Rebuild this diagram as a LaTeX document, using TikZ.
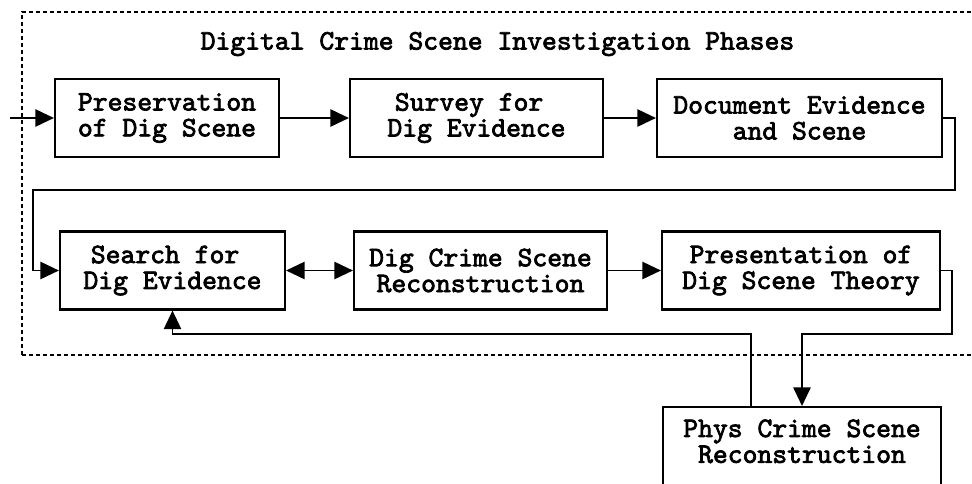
\documentclass[tikz,border=0pt]{standalone}
\usepackage{fontspec}
\newfontfamily\courbold{lmmono10-regular.otf}[FakeBold=2.6]
\usetikzlibrary{arrows.meta}
\tikzset{
  stagebox/.style={draw, line width=1.6pt, align=center, inner sep=0pt,
    minimum height=58.5pt, font=\courbold\fontsize{21.2}{19.4}\selectfont},
  conn/.style={line width=1.4pt},
  arr/.style={conn, -{Triangle[length=14pt,width=13pt]}},
  darr/.style={conn, {Triangle[length=14pt,width=13pt]}-{Triangle[length=14pt,width=13pt]}},
  frame/.style={line width=1.5pt, dash pattern=on 3pt off 2.25pt},
  titletext/.style={font=\courbold\fontsize{21.2}{19.4}\selectfont}
}
\begin{document}
\begin{tikzpicture}[x=0.75pt,y=-0.75pt]
\useasboundingbox (0,0) rectangle (972,483);
\clip (0,0) rectangle (972,483);
\fill[white] (0,0) rectangle (972,483);
% frame
\draw[frame] (22,355) -- (22,12) -- (1000,12);
\draw[frame] (22,355) -- (1000,355);
\node[titletext] (title) at (497.5,44) {Digital Crime Scene Investigation Phases};
% boxes
\node[stagebox, minimum width=168pt] (b1) at (167,118) {Preservation\\of Dig Scene};
\node[stagebox, minimum width=189.75pt] (b2) at (476.5,118) {Survey for\hphantom{ }\\Dig Evidence};
\node[stagebox, minimum width=213.75pt] (b3) at (799.5,118) {Document Evidence\\and Scene};
\node[stagebox, minimum width=168.75pt] (b4) at (172.5,270.5) {Search for\hphantom{ }\\Dig Evidence};
\node[stagebox, minimum width=189.75pt] (b5) at (480.5,270.5) {Dig Crime Scene\\Reconstruction};
\node[stagebox, minimum width=208.5pt] (b6) at (801,270.5) {Presentation of\\Dig Scene Theory};
\node[stagebox, minimum width=208.5pt, minimum height=70.5pt, anchor=north] (b7) at (802,406) {Phys Crime Scene\\Reconstruction\\\mbox{}};
% connectors
\coordinate (in) at (10,118);
\draw[arr] (in) -- (b1.west);
\draw[arr] (b1.east) -- (b2.west);
\draw[arr] (b2.east) -- (b3.west);
\coordinate (r1) at (955,190);
\coordinate (l1) at (33,190);
\draw[arr] (b3.east) -| (r1) -- (l1) |- (b4.west);
\draw[darr] (b4.east) -- (b5.west);
\draw[arr] (b5.east) -- (b6.west);
\coordinate (r2) at (952,334);
\draw[arr] (b6.east) -| (r2) -| (b7.north);
\coordinate (f1) at (751,406);
\coordinate (fb) at (172.5,334);
\draw[arr] (f1) |- (fb) -- (b4.south);
\end{tikzpicture}
\end{document}
